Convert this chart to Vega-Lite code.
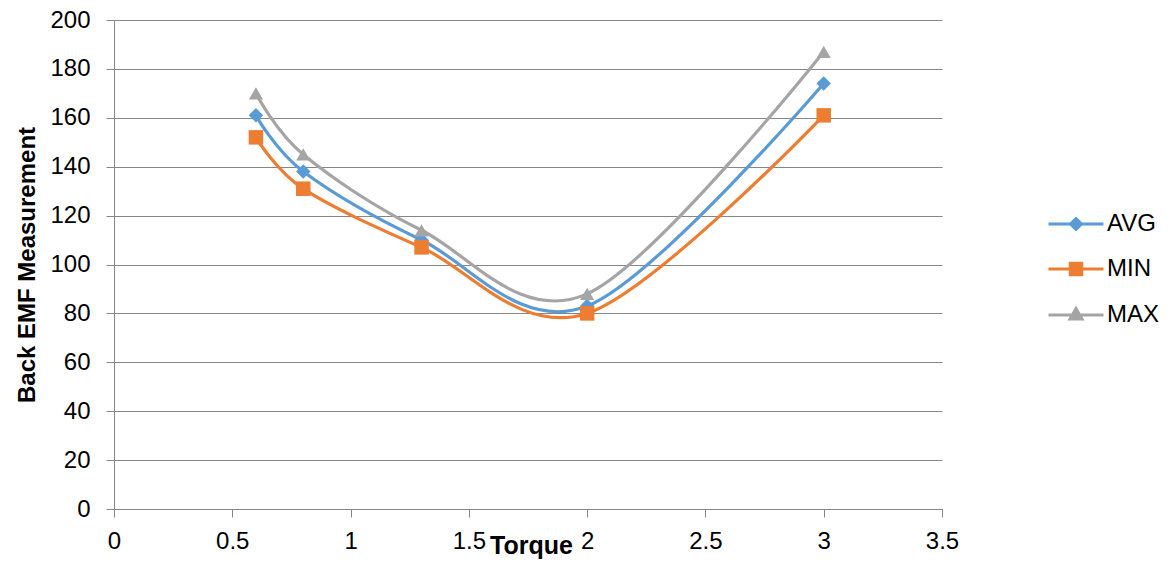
{
  "$schema": "https://vega.github.io/schema/vega-lite/v6.json",
  "width": 828,
  "height": 489,
  "autosize": {"type": "none"},
  "padding": {"left": 114, "top": 20, "right": 231, "bottom": 52},
  "background": "white",
  "config": {
    "view": {"stroke": null},
    "font": "Liberation Sans",
    "axis": {
      "labelFont": "Liberation Sans",
      "titleFont": "Liberation Sans",
      "labelColor": "#000000",
      "titleColor": "#000000",
      "labelFontSize": 24,
      "titleFontSize": 24,
      "titleFontWeight": "bold",
      "domainColor": "#868686",
      "tickColor": "#868686",
      "gridColor": "#868686",
      "domainWidth": 1,
      "tickWidth": 1,
      "gridWidth": 1,
      "tickSize": 8
    }
  },
  "data": {
    "values": [
      {"torque": 0.6, "series": "AVG", "value": 161},
      {"torque": 0.8, "series": "AVG", "value": 138},
      {"torque": 1.3, "series": "AVG", "value": 110},
      {"torque": 2.0, "series": "AVG", "value": 83},
      {"torque": 3.0, "series": "AVG", "value": 174},
      {"torque": 0.6, "series": "MIN", "value": 152},
      {"torque": 0.8, "series": "MIN", "value": 131},
      {"torque": 1.3, "series": "MIN", "value": 107},
      {"torque": 2.0, "series": "MIN", "value": 80},
      {"torque": 3.0, "series": "MIN", "value": 161},
      {"torque": 0.6, "series": "MAX", "value": 170},
      {"torque": 0.8, "series": "MAX", "value": 145},
      {"torque": 1.3, "series": "MAX", "value": 114},
      {"torque": 2.0, "series": "MAX", "value": 88},
      {"torque": 3.0, "series": "MAX", "value": 187}
    ]
  },
  "encoding": {
    "x": {
      "field": "torque",
      "type": "quantitative",
      "scale": {"domain": [0, 3.5], "nice": false, "zero": false},
      "axis": {
        "values": [0, 0.5, 1, 1.5, 2, 2.5, 3, 3.5],
        "format": "~g",
        "grid": false,
        "labelPadding": 12,
        "labelFlush": false,
        "title": "Torque",
        "titleFontSize": 25,
        "titleBaseline": "alphabetic",
        "titleY": 44,
        "titleX": 417,
        "titleAlign": "center"
      }
    },
    "y": {
      "field": "value",
      "type": "quantitative",
      "scale": {"domain": [0, 200], "nice": false},
      "axis": {
        "values": [0, 20, 40, 60, 80, 100, 120, 140, 160, 180, 200],
        "grid": true,
        "labelPadding": 16,
        "labelFlush": false,
        "title": "Back EMF Measurement",
        "titleBaseline": "alphabetic",
        "titleX": -80,
        "titleY": 244.5,
        "titleAngle": 270,
        "titleAlign": "center"
      }
    },
    "color": {
      "field": "series",
      "type": "nominal",
      "scale": {"domain": ["AVG", "MIN", "MAX"], "range": ["#5B9BD5", "#ED7D31", "#A5A5A5"]},
      "legend": {
        "title": null,
        "orient": "none",
        "legendX": 950,
        "legendY": 192,
        "padding": 0,
        "symbolSize": 100,
        "symbolStrokeWidth": 3,
        "labelFontSize": 24,
        "labelFont": "Liberation Sans",
        "labelColor": "#000000",
        "labelOffset": 19,
        "rowPadding": 21,
        "encode": {
          "symbols": {
            "update": {
              "size": {"value": 100},
              "strokeWidth": {"value": 3},
              "opacity": {"value": 1},
              "fill": {"scale": "color", "field": "value"},
              "stroke": {"scale": "color", "field": "value"},
              "shape": {"signal": "datum.value === 'AVG' ? 'M-5.5,0H5.5M0,-1.1L1.1,0L0,1.1L-1.1,0Z' : datum.value === 'MIN' ? 'M-5.5,0H5.5M-1.15,-1.15H1.15V1.15H-1.15Z' : 'M-5.5,0H5.5M0,-1.3L1.2,0.8H-1.2Z'"}
            }
          }
        }
      }
    }
  },
  "layer": [
    {
      "mark": {"type": "line", "interpolate": "cardinal", "strokeWidth": 3.2}
    },
    {
      "transform": [{"filter": "datum.series === 'AVG'"}],
      "mark": {"type": "point", "shape": "diamond", "filled": true, "opacity": 1, "size": 210}
    },
    {
      "transform": [{"filter": "datum.series === 'MIN'"}],
      "mark": {"type": "point", "shape": "square", "filled": true, "opacity": 1, "size": 210}
    },
    {
      "transform": [{"filter": "datum.series === 'MAX'"}],
      "mark": {"type": "point", "shape": "triangle-up", "filled": true, "opacity": 1, "size": 200}
    }
  ]
}
